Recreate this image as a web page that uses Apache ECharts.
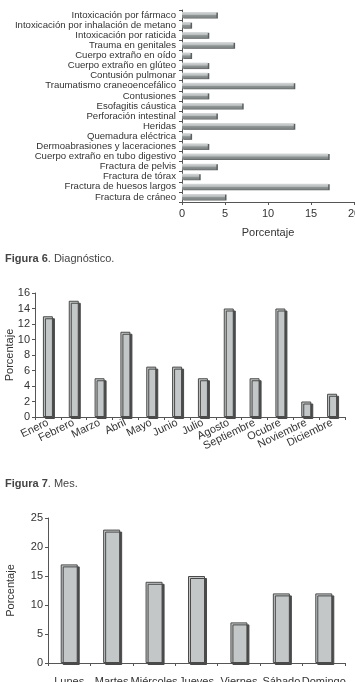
<!DOCTYPE html>
<html><head><meta charset="utf-8">
<script src="https://cdn.jsdelivr.net/npm/echarts@6/dist/echarts.min.js"></script>
<style>html,body{margin:0;padding:0;background:#fff;}#c{width:355px;height:682px;}</style>
</head><body><div id="c"></div>
<script>
var diagCats = ["Intoxicación por fármaco","Intoxicación por inhalación de metano","Intoxicación por raticida","Trauma en genitales","Cuerpo extraño en oído","Cuerpo extraño en glúteo","Contusión pulmonar","Traumatismo craneoencefálico","Contusiones","Esofagitis cáustica","Perforación intestinal","Heridas","Quemadura eléctrica","Dermoabrasiones y laceraciones","Cuerpo extraño en tubo digestivo","Fractura de pelvis","Fractura de tórax","Fractura de huesos largos","Fractura de cráneo"];
var diagVals = [4,1,3,6,1,3,3,13,3,7,4,13,1,3,17,4,2,17,5];
var monthCats = ["Enero","Febrero","Marzo","Abril","Mayo","Junio","Julio","Agosto","Septiembre","Ocubre","Noviembre","Diciembre"];
var monthVals = [13,15,5,11,6.5,6.5,5,14,5,14,2,3];
var dayCats = ["Lunes","Martes","Miércoles","Jueves","Viernes","Sábado","Domingo"];
var dayVals = [17,23,14,15,7,12,12];

var F = "Liberation Sans, Arial, sans-serif";
var txt = '#333';
var axisLine = {show:true, lineStyle:{color:'#555', width:1}};
var tick = {show:true, length:3, lineStyle:{color:'#555'}};

var chart = echarts.init(document.getElementById('c'));
var barStyleV = {color:'#c3c7c7', borderColor:'#4a4a4a', borderWidth:1, shadowColor:'#4a4a4a', shadowBlur:0, shadowOffsetX:2, shadowOffsetY:2};
var barStyleH = {
  color: new echarts.graphic.LinearGradient(0,0,0,1,[{offset:0,color:'#d6d9d9'},{offset:0.45,color:'#b7bbbb'},{offset:0.55,color:'#8f9494'},{offset:1,color:'#7a7f7f'}]),
  shadowColor:'#5a5e5e', shadowBlur:0, shadowOffsetX:1.5, shadowOffsetY:0.5
};
chart.setOption({
  animation:false,
  textStyle:{fontFamily:F},
  graphic:[
    {type:'text', left:5, top:253, style:{rich:{b:{fontWeight:'bold',fontSize:11,fill:'#444',fontFamily:F},n:{fontSize:11,fill:'#444',fontFamily:F}}, text:'{b|Figura 6}{n|. Diagnóstico.}'}},
    {type:'text', left:5, top:478, style:{rich:{b:{fontWeight:'bold',fontSize:11,fill:'#444',fontFamily:F},n:{fontSize:11,fill:'#444',fontFamily:F}}, text:'{b|Figura 7}{n|. Mes.}'}}
  ],
  grid:[
    {left:182, top:10, width:172, height:192, outerBoundsMode:'none', containLabel:false},
    {left:35, top:293, width:310, height:124, outerBoundsMode:'none', containLabel:false},
    {left:48, top:518, width:297, height:145, outerBoundsMode:'none', containLabel:false}
  ],
  xAxis:[
    {gridIndex:0, type:'value', min:0, max:20, interval:5, axisLine:axisLine, axisTick:tick, splitLine:{show:false},
     axisLabel:{fontSize:11, color:txt, fontFamily:F, margin:6},
     name:'Porcentaje', nameLocation:'middle', nameGap:25, nameTextStyle:{fontSize:11,color:txt,fontFamily:F}},
    {gridIndex:1, type:'category', data:monthCats, axisLine:axisLine, axisTick:{show:true,length:3,lineStyle:{color:'#555'}},
     axisLabel:{fontSize:11, color:txt, fontFamily:F, rotate:26, interval:0, margin:5}},
    {gridIndex:2, type:'category', data:dayCats, axisLine:axisLine, axisTick:{show:true,length:3,lineStyle:{color:'#555'}},
     axisLabel:{fontSize:11, color:txt, fontFamily:F, interval:0, margin:13}}
  ],
  yAxis:[
    {gridIndex:0, type:'category', data:diagCats, inverse:true, axisLine:axisLine, axisTick:{show:true,length:3,lineStyle:{color:'#555'}},
     axisLabel:{fontSize:9.6, color:txt, fontFamily:F, interval:0, margin:6}},
    {gridIndex:1, type:'value', min:0, max:16, interval:2, axisLine:axisLine, axisTick:tick, splitLine:{show:false},
     axisLabel:{fontSize:11, color:txt, fontFamily:F, margin:5},
     name:'Porcentaje', nameLocation:'middle', nameGap:20, nameMoveOverlap:false, nameTextStyle:{fontSize:11,color:txt,fontFamily:F}},
    {gridIndex:2, type:'value', min:0, max:25, interval:5, axisLine:axisLine, axisTick:tick, splitLine:{show:false},
     axisLabel:{fontSize:11, color:txt, fontFamily:F, margin:5},
     name:'Porcentaje', nameLocation:'middle', nameGap:32, nameMoveOverlap:false, nameTextStyle:{fontSize:11,color:txt,fontFamily:F}}
  ],
  series:[
    {type:'bar', xAxisIndex:0, yAxisIndex:0, data:diagVals, barWidth:6, itemStyle:barStyleH},
    {type:'bar', xAxisIndex:1, yAxisIndex:1, data:monthVals, barWidth:10, itemStyle:barStyleV},
    {type:'bar', xAxisIndex:2, yAxisIndex:2, data:dayVals, barWidth:17, itemStyle:barStyleV}
  ]
});
</script></body></html>
